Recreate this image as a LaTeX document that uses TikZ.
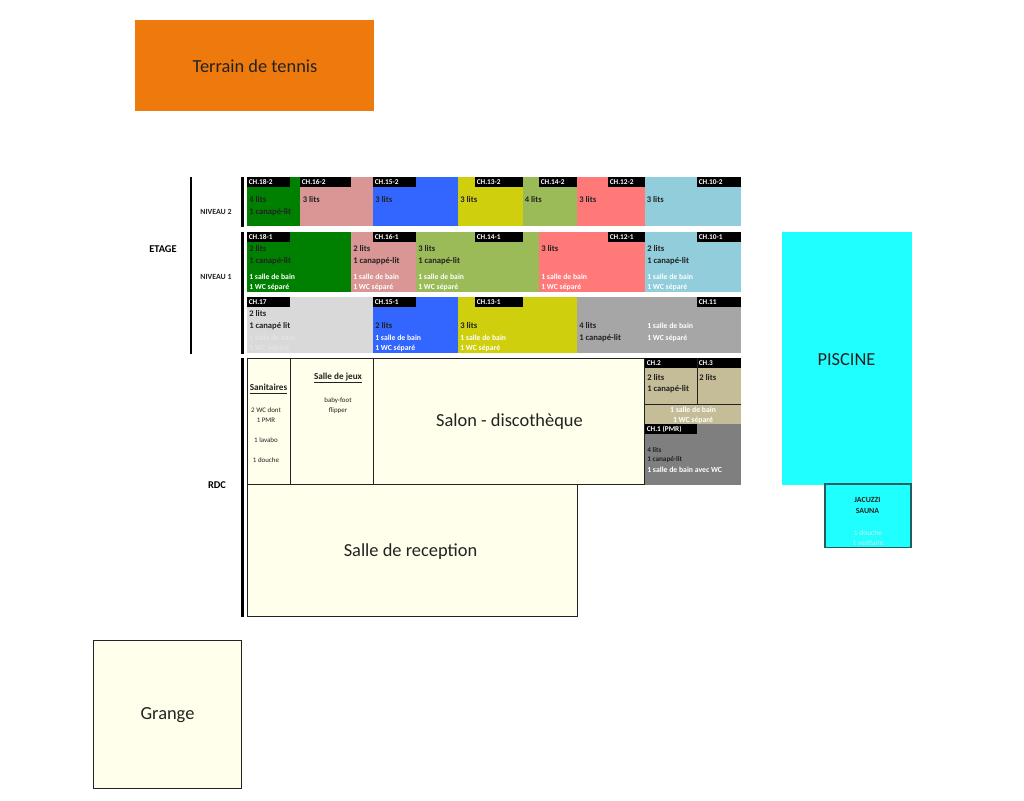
\documentclass[tikz,border=0pt]{standalone}
\usepackage{fontspec}
\setmainfont{Carlito}
\definecolor{tennis}{HTML}{EE7A0E}
\definecolor{cream}{HTML}{FFFFEB}
\definecolor{dgreen}{HTML}{008000}
\definecolor{pinkr}{HTML}{DA9694}
\definecolor{bluer}{HTML}{3366FF}
\definecolor{yellowr}{HTML}{CFCF0E}
\definecolor{oliver}{HTML}{9BBB59}
\definecolor{redr}{HTML}{FF7979}
\definecolor{lblue}{HTML}{92CDDC}
\definecolor{lgrey}{HTML}{D9D9D9}
\definecolor{mgrey}{HTML}{A6A6A6}
\definecolor{dgrey}{HTML}{7F7F7F}
\definecolor{tan}{HTML}{C4BD97}
\definecolor{pool}{HTML}{1FFFFF}
\definecolor{ghost}{HTML}{E4E4E4}
\definecolor{ink}{HTML}{222222}
\definecolor{jacedge}{HTML}{1F5F5F}
\newcounter{tn}
\newcommand{\rr}[5]{\fill[#5] (#1,#2) rectangle (#3,#4);}
\newcommand{\txt}[4][roomtxt]{\stepcounter{tn}\node[#1] (t\arabic{tn}) at (#2,#3) {#4};}
\newcommand{\chtag}[4][177]{\fill[black] (#2,#1) rectangle (#3,#1+10);\stepcounter{tn}\node[tagtxt] (t\arabic{tn}) at (#2+1.5,#1+5) {#4};}
\tikzset{
 roomtxt/.style={anchor=west,inner sep=0pt,font=\bfseries\fontsize{6.45pt}{7pt}\selectfont,text=ink},
 whitetxt/.style={roomtxt,font=\bfseries\fontsize{5.8pt}{6pt}\selectfont,text=white},
 paletxt/.style={whitetxt,text=ghost},
 tagtxt/.style={anchor=west,inner sep=0pt,font=\bfseries\fontsize{5.5pt}{6pt}\selectfont,text=white},
 headtxt/.style={anchor=center,inner sep=0pt,font=\bfseries\fontsize{5.9pt}{6pt}\selectfont,text=ink},
 bighead/.style={anchor=center,inner sep=0pt,font=\bfseries\fontsize{7.8pt}{8pt}\selectfont,text=black},
 smalltxt/.style={anchor=center,inner sep=0pt,font=\fontsize{5.2pt}{6pt}\selectfont,text=ink},
 underhead/.style={anchor=center,inner sep=0pt,font=\bfseries\fontsize{6.9pt}{7pt}\selectfont,text=ink},
 bigtxt/.style={anchor=center,inner sep=0pt,font=\fontsize{13.8pt}{15pt}\selectfont,text=ink},
 plan/.style={draw=ink,line width=0.75pt,fill=cream},
 bar/.style={fill=black}
}
\begin{document}
\begin{tikzpicture}[x=0.75pt,y=-0.75pt]
\useasboundingbox (0,0) rectangle (1024,800);
\fill[white] (0,0) rectangle (1024,800);
% tennis
\fill[tennis] (135,20) rectangle (374,111);
\txt[bigtxt]{255}{66}{Terrain de tennis}
% level bars
\fill[bar] (189.5,177) rectangle (191.5,354);
\fill[bar] (241,177) rectangle (244,227);
\fill[bar] (241,232) rectangle (244,354);
\fill[bar] (241,358) rectangle (244,617);
\txt[bighead]{163}{249}{ETAGE}
\txt[headtxt]{216}{212}{NIVEAU 2}
\txt[headtxt]{216}{277}{NIVEAU 1}
\txt[bighead]{217}{485}{RDC}
% niveau 2
\rr{247}{177}{300}{226}{dgreen}
\rr{300}{177}{373}{226}{pinkr}
\rr{373}{177}{458}{226}{bluer}
\rr{458}{177}{523}{226}{yellowr}
\rr{523}{177}{577}{226}{oliver}
\rr{577}{177}{644.5}{226}{redr}
\rr{644.5}{177}{741}{226}{lblue}
\chtag{247}{290}{CH.18-2}
\chtag{300}{351}{CH.16-2}
\chtag{373}{415.5}{CH.15-2}
\chtag{475}{523}{CH.13-2}
\chtag{539}{577}{CH.14-2}
\chtag{608}{644.5}{CH.12-2}
\chtag{697}{741}{CH.10-2}
\txt{249}{199.5}{4 lits}
\txt{249}{212}{1 canapé-lit}
\txt{302.5}{199.5}{3 lits}
\txt{375}{199.5}{3 lits}
\txt{460}{199.5}{3 lits}
\txt{524.5}{199.5}{4 lits}
\txt{579}{199.5}{3 lits}
\txt{646.5}{199.5}{3 lits}
% niveau 1
\rr{247}{232}{351}{291.5}{dgreen}
\rr{351}{232}{416}{291.5}{pinkr}
\rr{416}{232}{539}{291.5}{oliver}
\rr{539}{232}{644.5}{291.5}{redr}
\rr{644.5}{232}{741}{291.5}{lblue}
\chtag[232]{247}{290}{CH.18-1}
\chtag[232]{373}{415.5}{CH.16-1}
\chtag[232]{475}{523}{CH.14-1}
\chtag[232]{608}{644.5}{CH.12-1}
\chtag[232]{697}{741}{CH.10-1}
\txt{249}{249}{2 lits}
\txt{249}{261}{1 canapé-lit}
\txt[whitetxt]{249}{276.5}{1 salle de bain}
\txt[whitetxt]{249}{287}{1 WC séparé}
\txt{353}{249}{2 lits}
\txt{353}{261}{1 canappé-lit}
\txt[whitetxt]{353}{276.5}{1 salle de bain}
\txt[whitetxt]{353}{287}{1 WC séparé}
\txt{418}{249}{3 lits}
\txt{418}{261}{1 canapé-lit}
\txt[whitetxt]{418}{276.5}{1 salle de bain}
\txt[whitetxt]{418}{287}{1 WC séparé}
\txt{541}{249}{3 lits}
\txt[whitetxt]{541}{276.5}{1 salle de bain}
\txt[whitetxt]{541}{287}{1 WC séparé}
\txt{647}{249}{2 lits}
\txt{647}{261}{1 canapé-lit}
\txt[whitetxt]{647}{276.5}{1 salle de bain}
\txt[whitetxt]{647}{287}{1 WC séparé}
% row 3
\rr{247}{297}{373}{353}{lgrey}
\rr{373}{297}{458}{353}{bluer}
\rr{458}{297}{577}{353}{yellowr}
\rr{577}{297}{741}{353}{mgrey}
\chtag[297]{247}{290}{CH.17}
\chtag[297]{373}{415.5}{CH.15-1}
\chtag[297]{475}{523}{CH.13-1}
\chtag[297]{697}{741}{CH.11}
\txt{249}{314}{2 lits}
\txt{249}{326}{1 canapé lit}
\txt[paletxt]{249}{338}{1 salle de bain}
\txt[paletxt]{249}{348.5}{1 WC séparé}
\txt{375}{326}{2 lits}
\txt[whitetxt]{375}{338}{1 salle de bain}
\txt[whitetxt]{375}{348.5}{1 WC séparé}
\txt{460}{326}{3 lits}
\txt[whitetxt]{460}{338}{1 salle de bain}
\txt[whitetxt]{460}{348.5}{1 WC séparé}
\txt{579}{338}{1 canapé-lit}
\txt{579}{326}{4 lits}
\txt[whitetxt]{647}{326}{1 salle de bain}
\txt[whitetxt]{647}{338}{1 WC séparé}
% RDC rooms
\draw[plan] (247,358) rectangle (290.5,484);
\draw[plan] (290.5,358) rectangle (373.5,484);
\draw[plan] (373.5,358) rectangle (644.5,484);
\draw[plan] (247,484) rectangle (577.5,616.5);
\draw[plan] (93,640) rectangle (241.5,788);
\txt[underhead]{268.5}{389}{\underline{Sanitaires}}
\txt[smalltxt]{266}{410}{2 WC dont}
\txt[smalltxt]{266}{420}{1 PMR}
\txt[smalltxt]{266}{440}{1 lavabo}
\txt[smalltxt]{266}{460}{1 douche}
\txt[underhead]{338}{378}{\underline{Salle de jeux}}
\txt[smalltxt]{338}{400.5}{baby-foot}
\txt[smalltxt]{338}{410.5}{flipper}
\txt[bigtxt]{509.5}{422}{Salon - discothèque}
\txt[bigtxt]{410.5}{552}{Salle de reception}
\txt[bigtxt]{167.5}{715}{Grange}
% right block
\fill[tan] (645,358) rectangle (741,424);
\fill[black] (645,358) rectangle (741,368);
\stepcounter{tn}\node[tagtxt] (t\arabic{tn}) at (646.5,363.5) {CH.2};
\stepcounter{tn}\node[tagtxt] (t\arabic{tn}) at (698.5,363.5) {CH.3};
\draw[ink,line width=0.75pt] (697,358) -- (697,404);
\draw[ink,line width=0.75pt] (645,404.5) -- (741,404.5);
\txt{647}{377.5}{2 lits}
\txt{647}{389}{1 canapé-lit}
\txt{699}{377.5}{2 lits}
\txt[whitetxt,anchor=center]{693}{410}{1 salle de bain}
\txt[whitetxt,anchor=center]{693}{420}{1 WC séparé}
\fill[dgrey] (645,424) rectangle (741,485);
\chtag[424]{645}{697}{CH.1 (PMR)}
\txt[roomtxt,font=\bfseries\fontsize{5.4pt}{6pt}\selectfont]{647}{449.5}{4 lits}
\txt[roomtxt,font=\bfseries\fontsize{5.4pt}{6pt}\selectfont]{647}{459.5}{1 canapé-lit}
\txt[whitetxt]{647}{469.5}{1 salle de bain avec WC}
\draw[ink,line width=0.75pt] (644.5,358) -- (644.5,484);
% pool
\fill[pool] (782,232) rectangle (912,484.5);
\txt[bigtxt]{846.5}{360}{PISCINE}
\draw[jacedge,line width=0.9pt,fill=pool] (825,484) rectangle (911,547.5);
\txt[headtxt]{867.5}{499.5}{JACUZZI}
\txt[headtxt]{867.5}{511}{SAUNA}
\txt[headtxt,font=\fontsize{5.6pt}{6pt}\selectfont,text=ghost!90!pool]{868}{533}{1 douche}
\txt[headtxt,font=\fontsize{5.6pt}{6pt}\selectfont,text=ghost!90!pool]{868}{542.5}{1 vestiaire}
\end{tikzpicture}
\end{document}
